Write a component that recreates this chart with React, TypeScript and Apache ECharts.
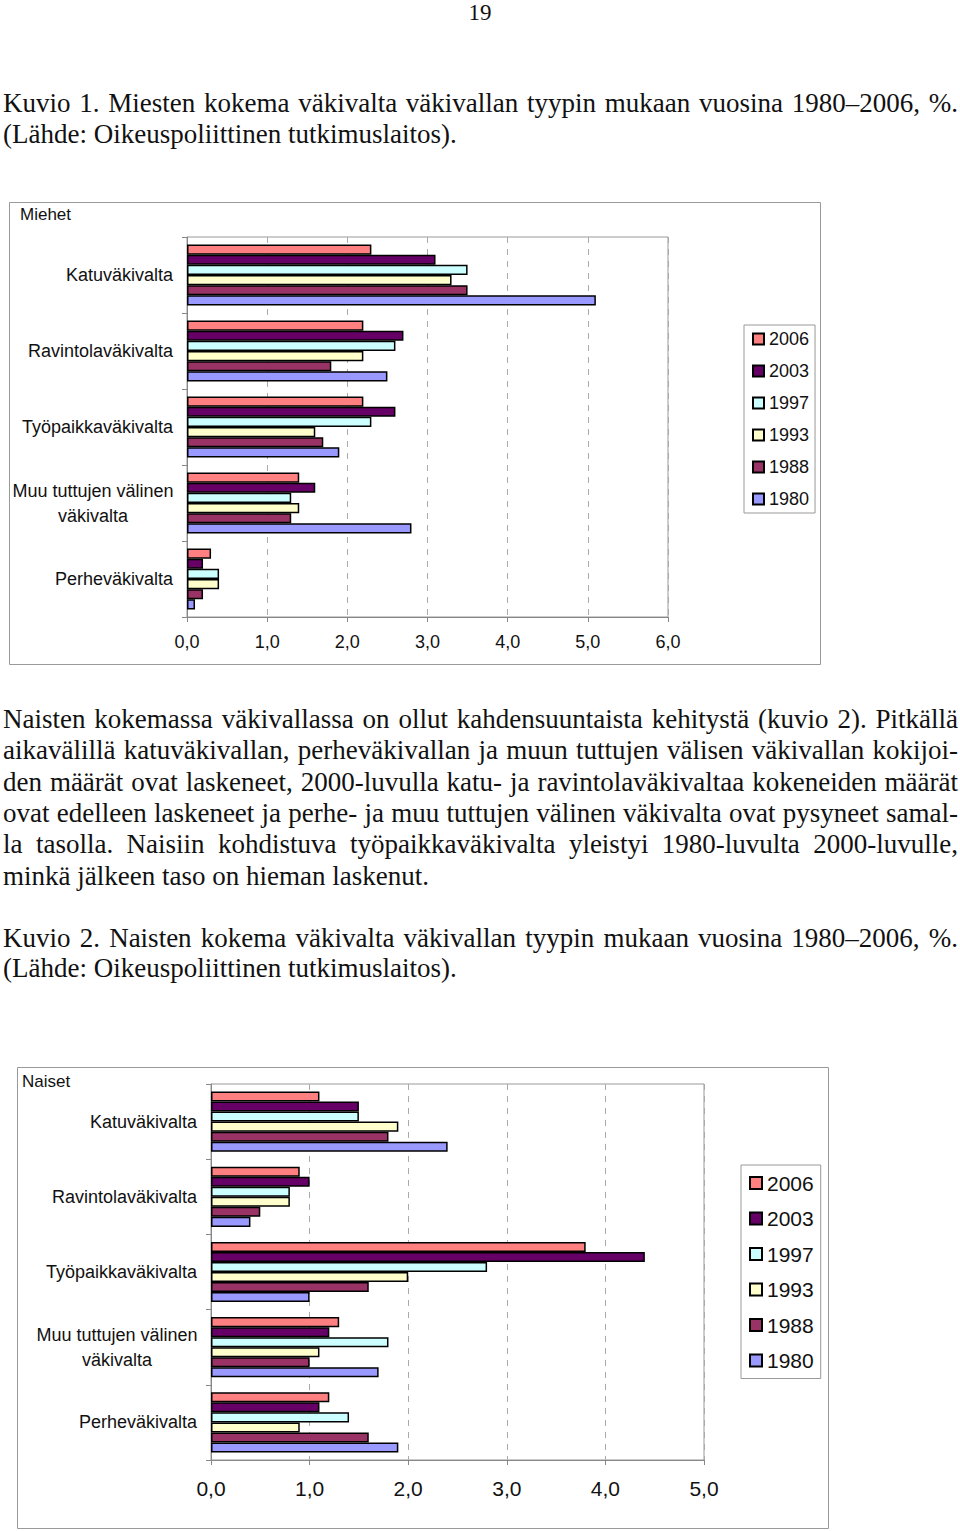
import React, { useEffect, useRef } from "react";
import * as echarts from "echarts";

const years = ["2006", "2003", "1997", "1993", "1988", "1980"];
const yearColors = ["#FF8080", "#660066", "#CCFFFF", "#FFFFCC", "#993366", "#9999FF"];
const categories = [
  "Katuväkivalta",
  "Ravintolaväkivalta",
  "Työpaikkaväkivalta",
  "Muu tuttujen välinen\nväkivalta",
  "Perheväkivalta",
];

// Miehet (men), one array per year, in category order
const men2006 = [2.3, 2.2, 2.2, 1.4, 0.3];
const men2003 = [3.1, 2.7, 2.6, 1.6, 0.2];
const men1997 = [3.5, 2.6, 2.3, 1.3, 0.4];
const men1993 = [3.3, 2.2, 1.6, 1.4, 0.4];
const men1988 = [3.5, 1.8, 1.7, 1.3, 0.2];
const men1980 = [5.1, 2.5, 1.9, 2.8, 0.1];

// Naiset (women)
const women2006 = [1.1, 0.9, 3.8, 1.3, 1.2];
const women2003 = [1.5, 1.0, 4.4, 1.2, 1.1];
const women1997 = [1.5, 0.8, 2.8, 1.8, 1.4];
const women1993 = [1.9, 0.8, 2.0, 1.1, 0.9];
const women1988 = [1.8, 0.5, 1.6, 1.0, 1.6];
const women1980 = [2.4, 0.4, 1.0, 1.7, 1.9];

const menSeries = [men2006, men2003, men1997, men1993, men1988, men1980];
const womenSeries = [women2006, women2003, women1997, women1993, women1988, women1980];

const menTicksMax = 6;
const womenTicksMax = 5;

const SANS = "'Liberation Sans', Arial, sans-serif";
const SERIF = "'Liberation Serif', 'Times New Roman', serif";
const TEXT_SIZE = 27;

type Cfg = {
  title: string;
  width: number;
  height: number;
  titleX: number;
  titleY: number;
  grid: { left: number; top: number; width: number; height: number };
  max: number;
  values: number[][];
  xFont: number;
  xMargin: number;
  legend: {
    left: number;
    top: number;
    padding: number[];
    icon: number;
    gap: number;
    font: number;
    lh: number;
  };
};

function buildOption(c: Cfg) {
  return {
    animation: false,
    graphic: [
      {
        type: "rect",
        shape: { x: 0.5, y: 0.5, width: c.width - 1, height: c.height - 1 },
        style: { fill: "none", stroke: "#999", lineWidth: 1 },
        silent: true,
      },
      {
        type: "text",
        x: c.titleX,
        y: c.titleY,
        style: {
          text: c.title,
          fontSize: 17,
          fontFamily: SANS,
          fill: "#111",
          verticalAlign: "middle",
        },
      },
    ],
    legend: {
      orient: "vertical",
      left: c.legend.left,
      top: c.legend.top,
      padding: c.legend.padding,
      borderColor: "#999",
      borderWidth: 1,
      itemWidth: c.legend.icon,
      itemHeight: c.legend.icon,
      itemGap: c.legend.gap,
      icon: "rect",
      data: years,
      textStyle: {
        fontSize: c.legend.font,
        lineHeight: c.legend.lh,
        fontFamily: SANS,
        color: "#111",
      },
    },
    grid: {
      left: c.grid.left,
      top: c.grid.top,
      width: c.grid.width,
      height: c.grid.height,
      show: true,
      borderColor: "#999",
      borderWidth: 1,
      backgroundColor: "transparent",
    },
    xAxis: {
      type: "value",
      min: 0,
      max: c.max,
      interval: 1,
      axisLine: { show: true, lineStyle: { color: "#888", width: 1 } },
      axisTick: { show: true, length: 5, lineStyle: { color: "#888" } },
      splitLine: { show: true, lineStyle: { color: "#aaa", type: [6, 6], width: 1 } },
      axisLabel: {
        margin: c.xMargin,
        fontSize: c.xFont,
        fontFamily: SANS,
        color: "#111",
        formatter: (v: number) => v.toFixed(1).replace(".", ","),
      },
    },
    yAxis: {
      type: "category",
      inverse: true,
      data: categories,
      axisLine: { show: true, lineStyle: { color: "#888", width: 1 } },
      axisTick: { show: true, length: 5, lineStyle: { color: "#888" } },
      axisLabel: {
        margin: 14,
        fontSize: 18,
        fontFamily: SANS,
        color: "#111",
        lineHeight: 25,
        formatter: (v: string) =>
          v.indexOf("\n") >= 0
            ? v
                .split("\n")
                .map((s) => "{c|" + s + "}")
                .join("\n")
            : v,
        rich: {
          c: {
            width: 160,
            align: "center",
            fontSize: 18,
            fontFamily: SANS,
            color: "#111",
            lineHeight: 25,
          },
        },
      },
    },
    series: years.map((y, i) => ({
      name: y,
      type: "bar",
      data: c.values[i],
      barGap: "0%",
      barCategoryGap: "20%",
      itemStyle: {
        color: yearColors[i],
        borderColor: "#000",
        borderWidth: 1.5,
      },
    })),
  };
}

function Chart({ cfg, left, top }: { cfg: Cfg; left: number; top: number }) {
  const ref = useRef<HTMLDivElement>(null);
  useEffect(() => {
    if (!ref.current) return;
    const chart = echarts.init(ref.current, undefined, { renderer: "svg" });
    chart.setOption(buildOption(cfg) as any);
    return () => chart.dispose();
  }, []);
  return (
    <div
      ref={ref}
      style={{ position: "absolute", left, top, width: cfg.width, height: cfg.height }}
    />
  );
}

const menCfg: Cfg = {
  title: "Miehet",
  width: 812,
  height: 463,
  titleX: 11,
  titleY: 12,
  grid: { left: 178, top: 35, width: 481, height: 380 },
  max: menTicksMax,
  values: menSeries,
  xFont: 18,
  xMargin: 16,
  legend: { left: 735, top: 123, padding: [4, 6, 4, 8], icon: 11, gap: 12, font: 18, lh: 20 },
};

const womenCfg: Cfg = {
  title: "Naiset",
  width: 812,
  height: 462,
  titleX: 5,
  titleY: 14,
  grid: { left: 194, top: 17, width: 493, height: 376 },
  max: womenTicksMax,
  values: womenSeries,
  xFont: 21,
  xMargin: 18,
  legend: { left: 724, top: 98, padding: [6, 7, 6, 8], icon: 12, gap: 11.5, font: 21, lh: 24 },
};

function Line({ y, text, justify }: { y: number; text: string; justify?: boolean }) {
  return (
    <div
      style={{
        position: "absolute",
        left: 3,
        top: y - 15.5,
        width: 955,
        height: 31,
        lineHeight: "31px",
        fontFamily: SERIF,
        fontSize: TEXT_SIZE,
        color: "#111",
        whiteSpace: "nowrap",
        textAlign: justify ? "justify" : "left",
        textAlignLast: justify ? "justify" : "left",
      } as React.CSSProperties}
    >
      {text}
    </div>
  );
}

export default function App() {
  return (
    <div
      style={{
        position: "absolute",
        left: 0,
        top: 0,
        width: 960,
        height: 1531,
        background: "#fff",
        overflow: "hidden",
      }}
    >
      <div
        style={{
          position: "absolute",
          left: 0,
          top: 0,
          width: 960,
          textAlign: "center",
          fontFamily: SERIF,
          fontSize: 23,
          lineHeight: "26px",
          color: "#111",
        }}
      >
        19
      </div>
      <Line
        y={103}
        justify
        text="Kuvio 1. Miesten kokema väkivalta väkivallan tyypin mukaan vuosina 1980–2006, %."
      />
      <Line y={134} text="(Lähde: Oikeuspoliittinen tutkimuslaitos)." />
      <Chart cfg={menCfg} left={9} top={202} />
      <Line
        y={719}
        justify
        text="Naisten kokemassa väkivallassa on ollut kahdensuuntaista kehitystä (kuvio 2). Pitkällä"
      />
      <Line
        y={750}
        justify
        text="aikavälillä katuväkivallan, perheväkivallan ja muun tuttujen välisen väkivallan kokijoi-"
      />
      <Line
        y={782}
        justify
        text="den määrät ovat laskeneet, 2000-luvulla katu- ja ravintolaväkivaltaa kokeneiden määrät"
      />
      <Line
        y={813}
        justify
        text="ovat edelleen laskeneet ja perhe- ja muu tuttujen välinen väkivalta ovat pysyneet samal-"
      />
      <Line
        y={844}
        justify
        text="la tasolla. Naisiin kohdistuva työpaikkaväkivalta yleistyi 1980-luvulta 2000-luvulle,"
      />
      <Line y={876} text="minkä jälkeen taso on hieman laskenut." />
      <Line
        y={938}
        justify
        text="Kuvio 2. Naisten kokema väkivalta väkivallan tyypin mukaan vuosina 1980–2006, %."
      />
      <Line y={968} text="(Lähde: Oikeuspoliittinen tutkimuslaitos)." />
      <Chart cfg={womenCfg} left={17} top={1067} />
    </div>
  );
}
